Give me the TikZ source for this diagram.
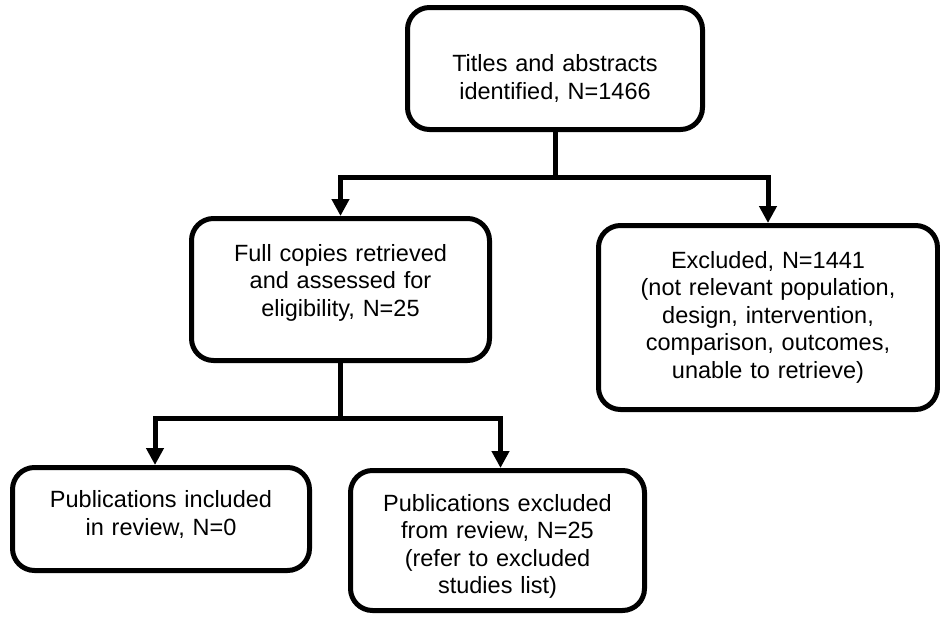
\documentclass[tikz,border=0pt]{standalone}
\usepackage{fontspec}
\setmainfont{Liberation Sans}
\usepackage{tikz}
\usetikzlibrary{arrows.meta,positioning}

\begin{document}
\begin{tikzpicture}[
 x=1pt,y=-1pt,
 b/.style={draw=black,line width=5pt,rounded corners=22pt,fill=white,inner sep=0pt,align=center,anchor=north,
  font=\fontsize{23.5}{27.5}\selectfont},
 l/.style={line width=5pt,draw=black},
 a/.style={l,-{Triangle[width=17pt,length=17pt]}}
]
\useasboundingbox (0,0) rectangle (940,616);
\node[b,text width=295pt,text height=64.2pt,text depth=57.8pt] (titles) at (555,5) {Titles and abstracts\\identified, N=1466};
\node[b,text width=298pt,text height=42.5pt,text depth=99.5pt] (full) at (340.5,216) {Full copies retrieved\\and assessed for\\eligibility, N=25};
\node[b,text width=339pt,text height=42.5pt,text depth=141.5pt] (excl) at (768,223) {Excluded, N=1441\\(not relevant population,\\design, intervention,\\comparison, outcomes,\\unable to retrieve)};
\node[b,text width=297pt,text height=40pt,text depth=63pt] (incl) at (161,465) {Publications included\\in review, N=0};
\node[b,text width=294pt,text height=40.5pt,text depth=99.5pt] (pubex) at (497.5,468) {Publications excluded\\from review, N=25\\(refer to excluded\\studies list)};
\draw[l] (titles.south) -- ++(0,45) coordinate (j1);
\draw[a] (j1) -| (full.north);
\draw[a] (j1) -| (excl.north);
\draw[l] (full.south) -- ++(0,55) coordinate (j2);
\draw[a] (j2) -| ([xshift=-6pt]incl.north);
\draw[a] (j2) -| ([xshift=3pt]pubex.north);
\end{tikzpicture}
\end{document}
